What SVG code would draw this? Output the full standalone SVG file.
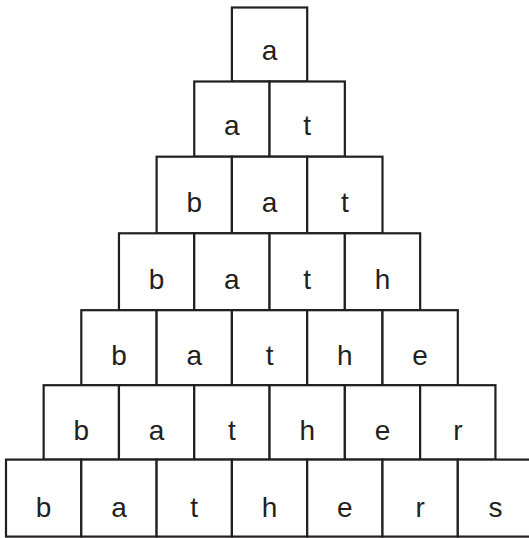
<svg xmlns="http://www.w3.org/2000/svg" width="529" height="538" viewBox="0 0 529 538">
<style>
rect.c{fill:#fff;stroke:#231f20;stroke-width:2.2}
text{font-family:"Liberation Sans",Arial,sans-serif;font-size:28px;fill:#231f20;text-anchor:middle}
</style>
<rect width="529" height="538" fill="#fff"/>
<g id="row1">
<g id="r1c1"><rect class="c" x="231.9" y="7.5" width="75.3" height="74"/><text x="269.55" y="59.5">a</text></g>
</g>
<g id="row2">
<g id="r2c1"><rect class="c" x="194.25" y="81.5" width="75.3" height="75.2"/><text x="231.9" y="135">a</text></g>
<g id="r2c2"><rect class="c" x="269.55" y="81.5" width="75.3" height="75.2"/><text x="307.2" y="135">t</text></g>
</g>
<g id="row3">
<g id="r3c1"><rect class="c" x="156.6" y="156.7" width="75.3" height="76.6"/><text x="194.25" y="211.5">b</text></g>
<g id="r3c2"><rect class="c" x="231.9" y="156.7" width="75.3" height="76.6"/><text x="269.55" y="211.5">a</text></g>
<g id="r3c3"><rect class="c" x="307.2" y="156.7" width="75.3" height="76.6"/><text x="344.85" y="211.5">t</text></g>
</g>
<g id="row4">
<g id="r4c1"><rect class="c" x="118.95" y="233.3" width="75.3" height="76.9"/><text x="156.6" y="288.5">b</text></g>
<g id="r4c2"><rect class="c" x="194.25" y="233.3" width="75.3" height="76.9"/><text x="231.9" y="288.5">a</text></g>
<g id="r4c3"><rect class="c" x="269.55" y="233.3" width="75.3" height="76.9"/><text x="307.2" y="288.5">t</text></g>
<g id="r4c4"><rect class="c" x="344.85" y="233.3" width="75.3" height="76.9"/><text x="382.5" y="288.5">h</text></g>
</g>
<g id="row5">
<g id="r5c1"><rect class="c" x="81.3" y="310.2" width="75.3" height="75"/><text x="118.95" y="364.5">b</text></g>
<g id="r5c2"><rect class="c" x="156.6" y="310.2" width="75.3" height="75"/><text x="194.25" y="364.5">a</text></g>
<g id="r5c3"><rect class="c" x="231.9" y="310.2" width="75.3" height="75"/><text x="269.55" y="364.5">t</text></g>
<g id="r5c4"><rect class="c" x="307.2" y="310.2" width="75.3" height="75"/><text x="344.85" y="364.5">h</text></g>
<g id="r5c5"><rect class="c" x="382.5" y="310.2" width="75.3" height="75"/><text x="420.15" y="364.5">e</text></g>
</g>
<g id="row6">
<g id="r6c1"><rect class="c" x="43.65" y="385.2" width="75.3" height="74.4"/><text x="81.3" y="439.5">b</text></g>
<g id="r6c2"><rect class="c" x="118.95" y="385.2" width="75.3" height="74.4"/><text x="156.6" y="439.5">a</text></g>
<g id="r6c3"><rect class="c" x="194.25" y="385.2" width="75.3" height="74.4"/><text x="231.9" y="439.5">t</text></g>
<g id="r6c4"><rect class="c" x="269.55" y="385.2" width="75.3" height="74.4"/><text x="307.2" y="439.5">h</text></g>
<g id="r6c5"><rect class="c" x="344.85" y="385.2" width="75.3" height="74.4"/><text x="382.5" y="439.5">e</text></g>
<g id="r6c6"><rect class="c" x="420.15" y="385.2" width="75.3" height="74.4"/><text x="457.8" y="439.5">r</text></g>
</g>
<g id="row7">
<g id="r7c1"><rect class="c" x="6" y="459.6" width="75.3" height="77"/><text x="43.65" y="516.5">b</text></g>
<g id="r7c2"><rect class="c" x="81.3" y="459.6" width="75.3" height="77"/><text x="118.95" y="516.5">a</text></g>
<g id="r7c3"><rect class="c" x="156.6" y="459.6" width="75.3" height="77"/><text x="194.25" y="516.5">t</text></g>
<g id="r7c4"><rect class="c" x="231.9" y="459.6" width="75.3" height="77"/><text x="269.55" y="516.5">h</text></g>
<g id="r7c5"><rect class="c" x="307.2" y="459.6" width="75.3" height="77"/><text x="344.85" y="516.5">e</text></g>
<g id="r7c6"><rect class="c" x="382.5" y="459.6" width="75.3" height="77"/><text x="420.15" y="516.5">r</text></g>
<g id="r7c7"><rect class="c" x="457.8" y="459.6" width="75.3" height="77"/><text x="495.45" y="516.5">s</text></g>
</g>
<g id="connectors"/>
</svg>
